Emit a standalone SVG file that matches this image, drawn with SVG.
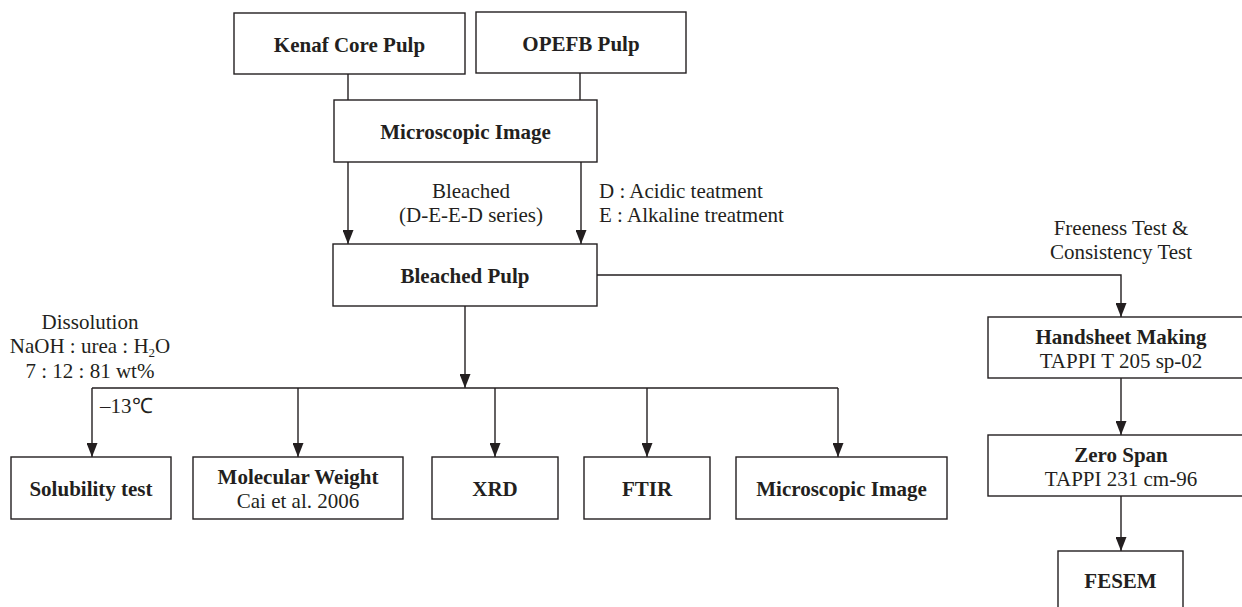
<svg xmlns="http://www.w3.org/2000/svg" width="1242" height="607" viewBox="0 0 1242 607">
<style>
.box{fill:#fff;stroke:#231f20;stroke-width:1.4}
.b{font-family:"Liberation Serif","Times New Roman",serif;font-weight:bold;font-size:21px;fill:#231f20;text-anchor:middle}
.r{font-family:"Liberation Serif","Times New Roman",serif;font-size:21px;fill:#231f20;text-anchor:middle}
.l{font-family:"Liberation Serif","Times New Roman",serif;font-size:21px;fill:#231f20}
.c{fill:none;stroke:#231f20;stroke-width:1.4}
.a{marker-end:url(#arr)}
</style>
<defs>
<marker id="arr" markerUnits="userSpaceOnUse" markerWidth="14" markerHeight="11" refX="14" refY="5.5" orient="auto">
<path d="M0,0 L14,5.5 L0,11 Z" fill="#231f20"/>
</marker>
</defs>
<rect width="1242" height="607" fill="#fff"/>
<g id="connectors">
<line class="c" x1="348" y1="74" x2="348" y2="100"/>
<line class="c" x1="580" y1="73" x2="580" y2="100"/>
<line class="c a" x1="348" y1="162" x2="348" y2="244"/>
<line class="c a" x1="581" y1="162" x2="581" y2="244"/>
<line class="c a" x1="465" y1="306" x2="465" y2="388"/>
<line class="c" x1="92" y1="388" x2="838" y2="388"/>
<line class="c a" x1="92" y1="388" x2="92" y2="457"/>
<line class="c a" x1="298" y1="388" x2="298" y2="457"/>
<line class="c a" x1="495" y1="388" x2="495" y2="457"/>
<line class="c a" x1="647" y1="388" x2="647" y2="457"/>
<line class="c a" x1="838" y1="388" x2="838" y2="457"/>
<polyline class="c a" points="597,275 1121,275 1121,317"/>
<line class="c a" x1="1121" y1="378" x2="1121" y2="435"/>
<line class="c a" x1="1121" y1="496" x2="1121" y2="551"/>
</g>
<g id="labels">
<text class="r" x="471" y="198">Bleached</text>
<text class="r" x="471" y="222">(D-E-E-D series)</text>
<text class="l" x="599" y="198">D : Acidic teatment</text>
<text class="l" x="599" y="222">E : Alkaline treatment</text>
<text class="r" x="1121" y="235">Freeness Test &amp;</text>
<text class="r" x="1121" y="259">Consistency Test</text>
<text class="r" x="90" y="329">Dissolution</text>
<text class="r" x="90" y="353">NaOH : urea : H<tspan dy="4" font-size="13">2</tspan><tspan dy="-4">O</tspan></text>
<text class="r" x="90" y="378">7 : 12 : 81 wt%</text>
<text class="l" x="100" y="413">–13℃</text>
</g>
<g id="kenaf"><rect class="box" x="234" y="13" width="231" height="61"/><text class="b" x="349.5" y="51.5">Kenaf Core Pulp</text></g>
<g id="opefb"><rect class="box" x="476" y="12" width="210" height="61"/><text class="b" x="581" y="50.5">OPEFB Pulp</text></g>
<g id="micro-top"><rect class="box" x="334" y="100" width="263" height="62"/><text class="b" x="465.5" y="139">Microscopic Image</text></g>
<g id="bleached"><rect class="box" x="333" y="244" width="264" height="62"/><text class="b" x="465" y="283">Bleached Pulp</text></g>
<g id="handsheet"><rect class="box" x="988" y="317" width="266" height="61"/><text class="b" x="1121" y="343.5">Handsheet Making</text><text class="r" x="1121" y="367.5">TAPPI T 205 sp-02</text></g>
<g id="zerospan"><rect class="box" x="988" y="435" width="266" height="61"/><text class="b" x="1121" y="461.5">Zero Span</text><text class="r" x="1121" y="485.5">TAPPI 231 cm-96</text></g>
<g id="fesem"><rect class="box" x="1058" y="551" width="125" height="70"/><text class="b" x="1120.5" y="588">FESEM</text></g>
<g id="solubility"><rect class="box" x="11" y="457" width="160" height="62"/><text class="b" x="91" y="496">Solubility test</text></g>
<g id="molecular"><rect class="box" x="193" y="457" width="210" height="62"/><text class="b" x="298" y="484">Molecular Weight</text><text class="r" x="298" y="508">Cai et al. 2006</text></g>
<g id="xrd"><rect class="box" x="432" y="457" width="126" height="62"/><text class="b" x="495" y="496">XRD</text></g>
<g id="ftir"><rect class="box" x="584" y="457" width="126" height="62"/><text class="b" x="647" y="496">FTIR</text></g>
<g id="micro-bottom"><rect class="box" x="736" y="457" width="211" height="62"/><text class="b" x="841.5" y="496">Microscopic Image</text></g>
</svg>
